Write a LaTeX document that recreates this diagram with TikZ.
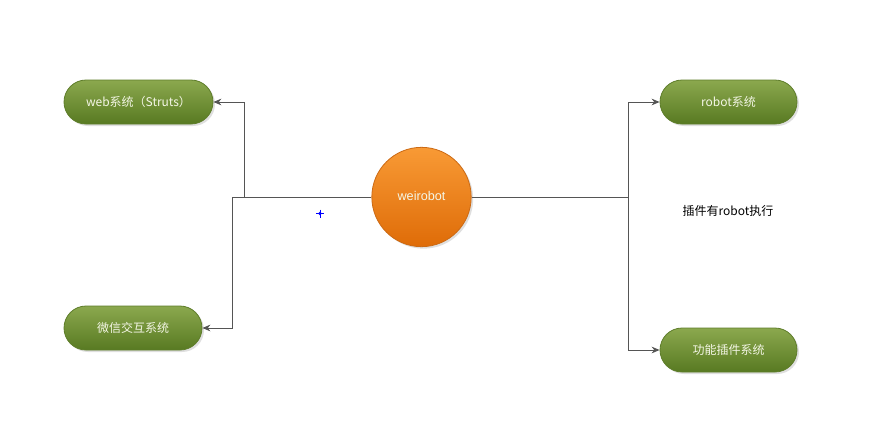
\documentclass[tikz,border=0pt]{standalone}
\usepackage{fontspec}
\setmainfont{Liberation Sans}
\newfontfamily\cjk{Noto Sans CJK SC}
\usetikzlibrary{shadows,arrows.meta}
\definecolor{linec}{HTML}{555555}
\definecolor{gtop}{HTML}{8BA84E}
\definecolor{gbot}{HTML}{587A22}
\definecolor{gborder}{HTML}{5E7D2A}
\definecolor{otop}{HTML}{F89A35}
\definecolor{obot}{HTML}{DF6C08}
\definecolor{oborder}{HTML}{CC6A14}
\definecolor{txt}{HTML}{F4F6E6}
\tikzset{
  pill/.style={draw=gborder, line width=0.6pt, rounded corners=16.5pt,
    top color=gtop, bottom color=gbot, minimum height=33pt,
    text=txt, font=\cjk\fontsize{9}{11}\selectfont,
    drop shadow={shadow xshift=1.5pt, shadow yshift=-1.5pt, opacity=0.25}},
  hub/.style={circle, draw=oborder, line width=0.6pt, top color=otop, bottom color=obot,
    minimum size=74.5pt, inner sep=0pt, text=txt, font=\fontsize{9.5}{11}\selectfont,
    drop shadow={shadow xshift=1.5pt, shadow yshift=-1.5pt, opacity=0.25}},
  conn/.style={draw=linec, line width=0.75pt, -{Stealth[length=6pt,width=5pt]}},
  plain/.style={draw=linec, line width=0.75pt},
  note/.style={font=\cjk\fontsize{9}{11}\selectfont, text=black},
  marker/.style={blue, line width=0.6pt}
}
\begin{document}
\begin{tikzpicture}[x=0.75pt,y=-0.75pt]
\useasboundingbox[fill=white] (0,0) rectangle (893,443);
\node[pill, minimum width=111.75pt] (web) at (138.5,102) {web系统（Struts）};
\node[pill, minimum width=103.5pt] (wx) at (133,328) {微信交互系统};
\node[pill, minimum width=102.75pt] (rob) at (728.5,102) {robot系统};
\node[pill, minimum width=102.75pt] (fun) at (728.5,350) {功能插件系统};
\node[hub] (hub) at (421.5,197) {\raisebox{1.5pt}{weirobot}};
\node[note] (lbl) at (728,211) {插件有robot执行};
\draw[marker] (316,213.5) -- (324,213.5) (320,209.5) -- (320,217.5);
\draw[marker, line width=0.8pt] (320,213.5) circle (0.9pt);
\coordinate (jl1) at (232,197);
\coordinate (jl2) at (244,197);
\coordinate (jr) at (628,197);
\draw[plain] (hub.west) -- (jl1);
\draw[conn] (jl1) |- (wx.east);
\draw[conn] (jl2) |- (web.east);
\draw[plain] (hub.east) -- (jr);
\draw[conn] (jr) |- (rob.west);
\draw[conn] (jr) |- (fun.west);
\end{tikzpicture}
\end{document}
